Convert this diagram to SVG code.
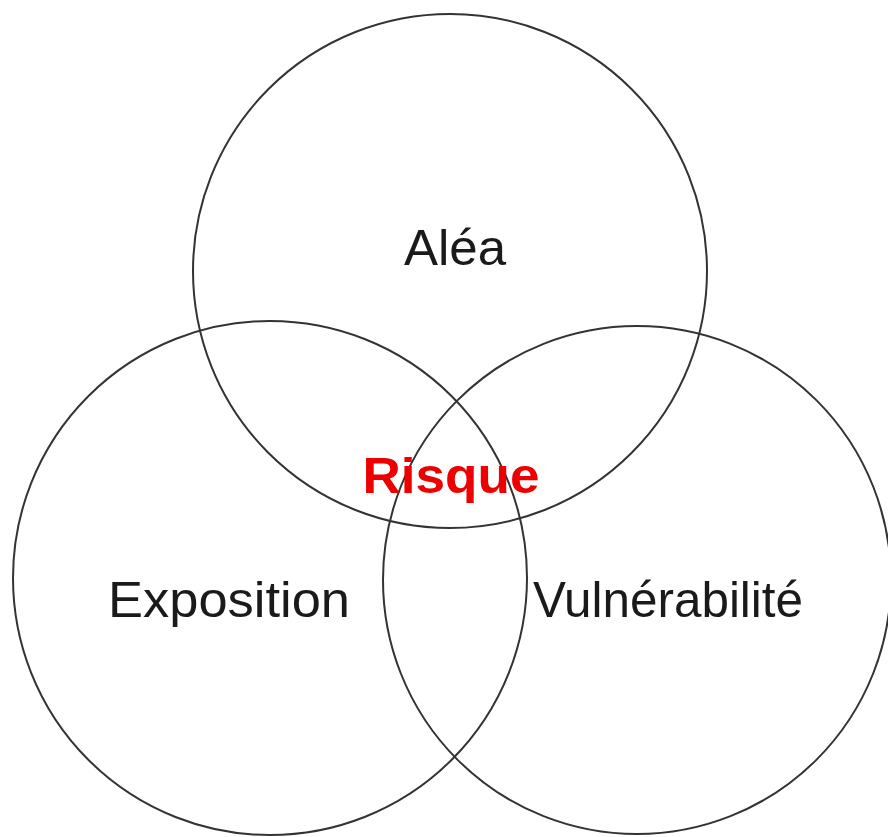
<svg xmlns="http://www.w3.org/2000/svg" width="888" height="837" viewBox="0 0 888 837">
<style>
.c{fill:none;stroke:#333;stroke-width:2}
.t{font-family:"Liberation Sans",Arial,sans-serif;font-size:50px;fill:#1a1a1a;text-anchor:middle}
.r{font-family:"Liberation Sans",Arial,sans-serif;font-size:50px;font-weight:bold;fill:#ee0000;text-anchor:middle}
</style>
<rect width="888" height="837" fill="#ffffff"/>
<g id="alea"><circle class="c" cx="450" cy="271" r="257"/><text class="t" x="455" y="265" textLength="102" lengthAdjust="spacingAndGlyphs">Aléa</text></g>
<g id="exposition"><circle class="c" cx="270" cy="578" r="257"/><text class="t" x="229" y="617" textLength="242" lengthAdjust="spacingAndGlyphs">Exposition</text></g>
<g id="vulnerabilite"><circle class="c" cx="637" cy="580" r="254"/><text class="t" x="668" y="617" textLength="270" lengthAdjust="spacingAndGlyphs">Vulnérabilité</text></g>
<g id="risque"><text class="r" x="451" y="493" textLength="177" lengthAdjust="spacingAndGlyphs">Risque</text></g>
<g id="connectors"></g>
</svg>
